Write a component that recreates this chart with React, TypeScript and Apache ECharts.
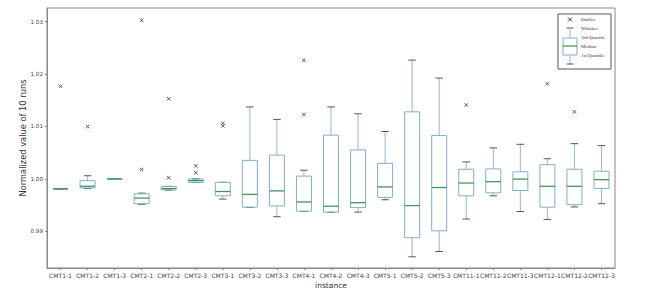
import React, { useEffect, useRef } from "react";
import * as echarts from "echarts";

const categories = [
  "CMT1-1", "CMT1-2", "CMT1-3", "CMT2-1", "CMT2-2", "CMT2-3", "CMT3-1", "CMT3-2",
  "CMT3-3", "CMT4-1", "CMT4-2", "CMT4-3", "CMT5-1", "CMT5-2", "CMT5-3", "CMT11-1",
  "CMT11-2", "CMT11-3", "CMT12-1", "CMT12-2", "CMT12-3",
];

// [low whisker, q1, median, q3, high whisker]
const boxes: number[][] = [
  [0.99798, 0.99803, 0.99809, 0.99814, 0.99818],
  [0.99816, 0.99827, 0.99859, 0.99966, 1.0006],
  [0.99998, 0.99999, 1.0, 1.00001, 1.00002],
  [0.99516, 0.99527, 0.99634, 0.99715, 0.99728],
  [0.99786, 0.9979, 0.99816, 0.99854, 0.99858],
  [0.9993, 0.99934, 0.99966, 0.99996, 1.0],
  [0.99615, 0.99677, 0.9976, 0.99934, 0.99934],
  [0.99455, 0.9946, 0.99704, 1.00353, 1.01373],
  [0.99278, 0.99484, 0.99771, 1.00454, 1.01135],
  [0.9938, 0.99385, 0.99559, 1.00053, 1.00165],
  [0.99362, 0.99366, 0.99478, 1.00835, 1.01373],
  [0.99366, 0.99452, 0.99546, 1.00553, 1.01242],
  [0.99602, 0.99647, 0.99846, 1.00296, 1.00904],
  [0.98514, 0.98878, 0.9949, 1.01279, 1.02266],
  [0.98616, 0.99009, 0.99835, 1.00829, 1.01923],
  [0.99234, 0.99677, 0.99921, 1.00184, 1.00323],
  [0.99677, 0.99734, 0.99947, 1.00191, 1.00591],
  [0.99377, 0.99779, 0.99996, 1.00135, 1.0066],
  [0.99227, 0.9946, 0.99859, 1.00272, 1.00385],
  [0.99465, 0.99509, 0.99859, 1.00184, 1.00672],
  [0.99527, 0.99816, 0.99985, 1.00146, 1.00634],
];

// [category index, value]
const outliers: number[][] = [
  [0, 1.01767],
  [1, 1.00998],
  [3, 1.03024],
  [3, 1.00178],
  [4, 1.01529],
  [4, 1.00023],
  [5, 1.00248],
  [5, 1.00116],
  [6, 1.0106],
  [6, 1.0101],
  [9, 1.02261],
  [9, 1.01229],
  [15, 1.01411],
  [18, 1.01816],
  [19, 1.01279],
];

const yTicks = [0.99, 1.0, 1.01, 1.02, 1.03];

const BOX_COLOR = "#7eb0cd";
const WHISKER_COLOR = "#94b8cc";
const CAP_COLOR = "#555555";
const MEDIAN_COLOR = "#3f9a5a";

export default function App() {
  const ref = useRef<HTMLDivElement>(null);
  useEffect(() => {
    if (!ref.current) return;
    const chart = echarts.init(ref.current, undefined, { renderer: "svg" });

    const renderItem = (params: any, api: any) => {
      const idx = api.value(0);
      const low = api.coord([idx, api.value(1)]);
      const q1 = api.coord([idx, api.value(2)]);
      const med = api.coord([idx, api.value(3)]);
      const q3 = api.coord([idx, api.value(4)]);
      const high = api.coord([idx, api.value(5)]);
      const x = low[0];
      const bw = 15;
      const cw = 7.5;
      return {
        type: "group",
        children: [
          { type: "line", shape: { x1: x, y1: q3[1], x2: x, y2: high[1] }, style: { stroke: WHISKER_COLOR, lineWidth: 1 } },
          { type: "line", shape: { x1: x, y1: q1[1], x2: x, y2: low[1] }, style: { stroke: WHISKER_COLOR, lineWidth: 1 } },
          { type: "line", shape: { x1: x - cw / 2, y1: high[1], x2: x + cw / 2, y2: high[1] }, style: { stroke: CAP_COLOR, lineWidth: 1 } },
          { type: "line", shape: { x1: x - cw / 2, y1: low[1], x2: x + cw / 2, y2: low[1] }, style: { stroke: CAP_COLOR, lineWidth: 1 } },
          { type: "rect", shape: { x: x - bw / 2, y: q3[1], width: bw, height: Math.max(q1[1] - q3[1], 0.5) }, style: { stroke: BOX_COLOR, fill: "none", lineWidth: 1 } },
          { type: "line", shape: { x1: x - bw / 2, y1: med[1], x2: x + bw / 2, y2: med[1] }, style: { stroke: MEDIAN_COLOR, lineWidth: 1.3 } },
        ],
      };
    };

    const lx = 558, ly = 14;
    const legendTextStyle = { fontFamily: "Liberation Serif", fontSize: 5, fill: "#333" };

    chart.setOption({
      animation: false,
      grid: { left: 47, right: 35, top: 8, bottom: 22, show: true, borderColor: "#888", borderWidth: 1 },
      xAxis: {
        type: "category",
        data: categories,
        name: "instance",
        nameLocation: "middle",
        nameGap: 13,
        nameMoveOverlap: false,
        nameTextStyle: { fontFamily: "DejaVu Sans", fontSize: 7.5, color: "#333" },
        axisLine: { show: true, lineStyle: { color: "#888" } },
        axisTick: { show: true, alignWithLabel: true, length: 2, lineStyle: { color: "#888" } },
        axisLabel: { fontFamily: "DejaVu Sans", fontSize: 6, color: "#444", margin: 4, interval: 0 },
      },
      yAxis: {
        type: "value",
        min: 0.983,
        max: 1.0326,
        name: "Normalized value of 10 runs",
        nameLocation: "middle",
        nameGap: 20,
        nameMoveOverlap: false,
        nameTextStyle: { fontFamily: "DejaVu Sans", fontSize: 8.3, color: "#333" },
        splitLine: { show: false },
        axisLine: { show: true, lineStyle: { color: "#888" } },
        axisTick: { show: true, length: 2, customValues: yTicks, lineStyle: { color: "#888" } },
        axisLabel: {
          fontFamily: "DejaVu Sans",
          fontSize: 5.6,
          color: "#444",
          margin: 4,
          customValues: yTicks,
          formatter: (v: number) => v.toFixed(2),
        },
      },
      series: [
        {
          type: "custom",
          renderItem,
          data: boxes.map((b, i) => [i, ...b]),
          encode: { x: 0, y: [1, 2, 3, 4, 5] },
          z: 2,
        },
        {
          type: "scatter",
          data: outliers,
          symbol: "path://M0,0L10,10M10,0L0,10",
          symbolSize: 3.5,
          itemStyle: { color: "none", borderColor: "#333", borderWidth: 1 },
          z: 3,
        },
      ],
      graphic: [
        { type: "rect", shape: { x: lx, y: ly, width: 53, height: 55 }, style: { fill: "#fff", stroke: "#555", lineWidth: 1 }, z: 10 },
        { type: "line", shape: { x1: lx + 10, y1: ly + 3.5, x2: lx + 14, y2: ly + 7.5 }, style: { stroke: "#333", lineWidth: 1 }, z: 11 },
        { type: "line", shape: { x1: lx + 14, y1: ly + 3.5, x2: lx + 10, y2: ly + 7.5 }, style: { stroke: "#333", lineWidth: 1 }, z: 11 },
        { type: "line", shape: { x1: lx + 8.5, y1: ly + 14, x2: lx + 15.5, y2: ly + 14 }, style: { stroke: CAP_COLOR, lineWidth: 1 }, z: 11 },
        { type: "line", shape: { x1: lx + 12, y1: ly + 14, x2: lx + 12, y2: ly + 24 }, style: { stroke: WHISKER_COLOR, lineWidth: 1 }, z: 11 },
        { type: "rect", shape: { x: lx + 5, y: ly + 24, width: 14, height: 17 }, style: { fill: "none", stroke: BOX_COLOR, lineWidth: 1 }, z: 11 },
        { type: "line", shape: { x1: lx + 5, y1: ly + 32, x2: lx + 19, y2: ly + 32 }, style: { stroke: MEDIAN_COLOR, lineWidth: 1.3 }, z: 11 },
        { type: "line", shape: { x1: lx + 12, y1: ly + 41, x2: lx + 12, y2: ly + 50 }, style: { stroke: WHISKER_COLOR, lineWidth: 1 }, z: 11 },
        { type: "line", shape: { x1: lx + 8.5, y1: ly + 50, x2: lx + 15.5, y2: ly + 50 }, style: { stroke: CAP_COLOR, lineWidth: 1 }, z: 11 },
        { type: "text", x: lx + 23, y: ly + 5.5, style: { ...legendTextStyle, text: "Outlier", verticalAlign: "middle" }, z: 11 },
        { type: "text", x: lx + 23, y: ly + 14, style: { ...legendTextStyle, text: "Whisker", verticalAlign: "middle" }, z: 11 },
        { type: "text", x: lx + 23, y: ly + 23, style: { ...legendTextStyle, text: "3rd Quartile", verticalAlign: "middle" }, z: 11 },
        { type: "text", x: lx + 23, y: ly + 32, style: { ...legendTextStyle, text: "Median", verticalAlign: "middle" }, z: 11 },
        { type: "text", x: lx + 23, y: ly + 41, style: { ...legendTextStyle, text: "1st Quartile", verticalAlign: "middle" }, z: 11 },
      ],
    });
    return () => chart.dispose();
  }, []);
  return <div ref={ref} style={{ width: 650, height: 294, position: "absolute", left: 0, top: 0 }} />;
}
